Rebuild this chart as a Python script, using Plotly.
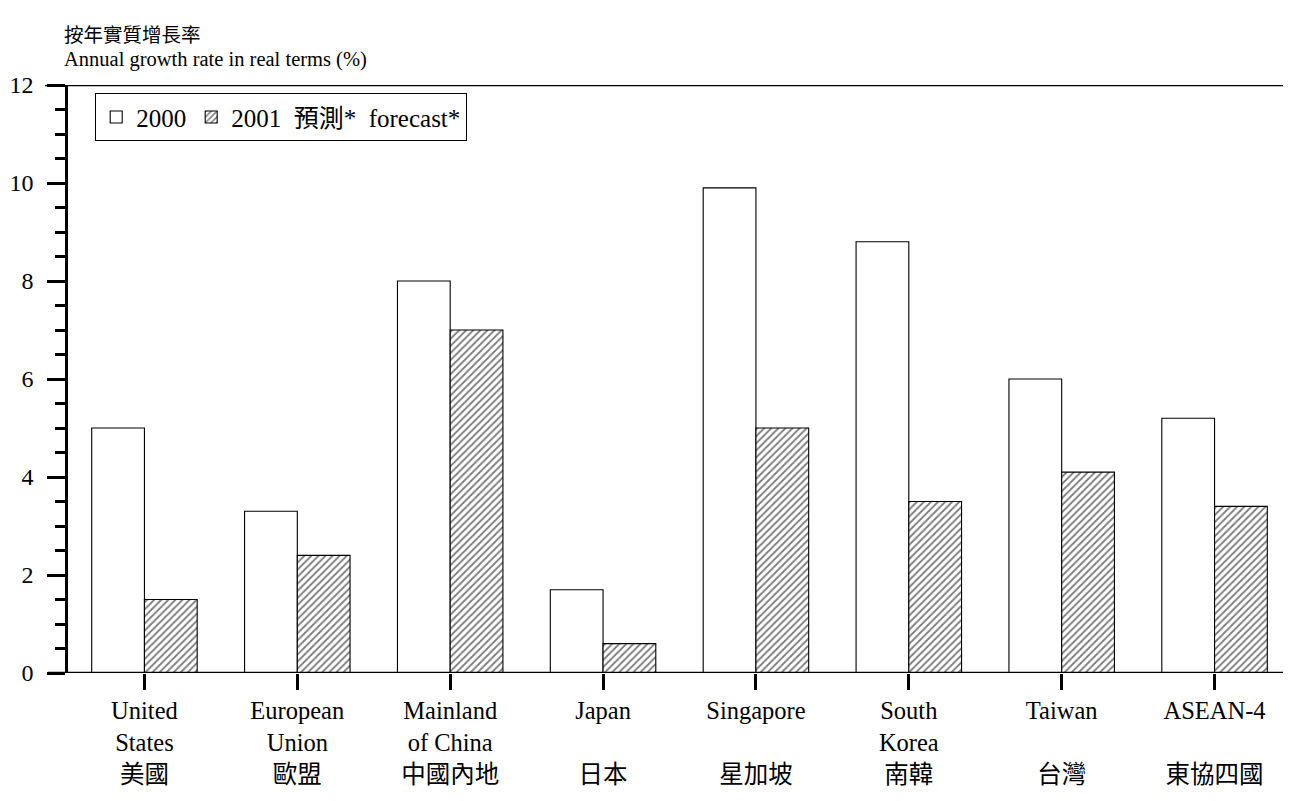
import plotly.graph_objects as go

# ---- data ----
categories = ["United States", "European Union", "Mainland of China", "Japan",
              "Singapore", "South Korea", "Taiwan", "ASEAN-4"]
labels_en = ["United<br>States", "European<br>Union", "Mainland<br>of China", "Japan<br> ",
             "Singapore<br> ", "South<br>Korea", "Taiwan<br> ", "ASEAN-4<br> "]
labels_zh = ["美國", "歐盟", "中國內地", "日本", "星加坡", "南韓", "台灣", "東協四國"]
values_2000 = [5.0, 3.3, 8.0, 1.7, 9.9, 8.8, 6.0, 5.2]
values_2001 = [1.5, 2.4, 7.0, 0.6, 5.0, 3.5, 4.1, 3.4]
series_names = ["2000", "2001  預測*  forecast*"]
y_ticks = [0, 2, 4, 6, 8, 10, 12]
title_zh = "按年實質增長率"
title_en = "Annual growth rate in real terms (%)"

FONT = "'Liberation Serif', 'Times New Roman', 'Noto Sans CJK TC', serif"

ticktext = [f"{en}<br>{zh}" for en, zh in zip(labels_en, labels_zh)]

# page body has an 8px margin: figure drawn at (8,8)
W, H = 1283, 793
ML, MR, MT, MB = 60, 0, 77, 128
PH = H - MT - MB  # plot height in px
PW = W - ML - MR


def py(fig_y):
    """figure-pixel y -> paper y"""
    return (H - MB - fig_y) / PH


def px(fig_x):
    return (fig_x - ML) / PW


fig = go.Figure()
fig.add_trace(go.Bar(
    x=categories, y=values_2000, name=series_names[0],
    marker=dict(color="white", line=dict(color="black", width=1.1)),
))
fig.add_trace(go.Bar(
    x=categories, y=values_2001, name=series_names[1],
    marker=dict(color="white", line=dict(color="black", width=1.1),
                pattern=dict(shape="/", fgcolor="black", bgcolor="white",
                             size=5, solidity=0.38)),
))

fig.update_layout(
    width=W, height=H,
    margin=dict(l=ML, r=MR, t=MT, b=MB),
    paper_bgcolor="white", plot_bgcolor="white",
    barmode="group", bargap=0.31, bargroupgap=0,
    font=dict(family=FONT, color="black", size=22),
    legend=dict(orientation="h", x=px(87), xanchor="left",
                y=py(85), yanchor="top",
                bordercolor="black", borderwidth=1.2, bgcolor="white",
                font=dict(family=FONT, size=25, color="black"),
                itemwidth=30, tracegroupgap=0),
    showlegend=True,
)

fig.add_annotation(text=title_zh, xref="paper", yref="paper",
                   x=px(54), y=py(27), xanchor="left", yanchor="middle",
                   showarrow=False, font=dict(family=FONT, size=19.5, color="black"))
fig.add_annotation(text=title_en, xref="paper", yref="paper",
                   x=px(54), y=py(52), xanchor="left", yanchor="middle",
                   showarrow=False, font=dict(family=FONT, size=20.5, color="black"))

fig.update_xaxes(
    type="category", range=[-0.5, 7.5],
    tickvals=categories, ticktext=ticktext,
    ticks="outside", ticklen=16, tickwidth=2.5, tickcolor="black",
    showline=False, showgrid=False, zeroline=False,
    tickfont=dict(family=FONT, size=24.5, color="black"),
)
fig.update_yaxes(
    range=[0, 12], tickvals=y_ticks,
    ticks="outside", ticklen=18, tickwidth=2.5, tickcolor="black",
    minor=dict(dtick=0.5, ticks="outside", ticklen=10, tickwidth=2.5, tickcolor="black"),
    showline=True, linewidth=2.5, linecolor="black",
    showgrid=False, zeroline=False,
    ticklabelstandoff=9,
    tickfont=dict(family=FONT, size=24, color="black"),
)

# top border line at 12 and baseline at 0, both extending slightly left of the y axis
fig.add_shape(type="line", xref="paper", yref="y", x0=px(37), x1=1, y0=12, y1=12,
              line=dict(color="black", width=2.5), layer="above")
fig.add_shape(type="line", xref="paper", yref="y", x0=px(40), x1=1, y0=0, y1=0,
              line=dict(color="black", width=2.5), layer="above")

fig.write_html("out.html")
